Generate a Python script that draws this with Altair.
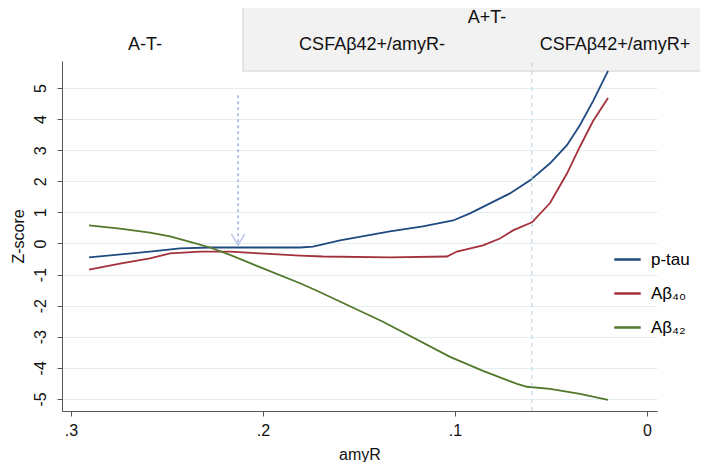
import altair as alt
import pandas as pd

# ---- data ----
ptau_x = [0.2906, 0.2589, 0.2432, 0.2276, 0.2068, 0.1807, 0.1740, 0.1599, 0.1339, 0.1167,
          0.1010, 0.0922, 0.0818, 0.0714, 0.0609, 0.0505, 0.0417, 0.0349, 0.0281, 0.0203]
ptau_z = [-0.45, -0.26, -0.16, -0.13, -0.13, -0.13, -0.10, 0.10, 0.39, 0.55,
          0.74, 0.97, 1.29, 1.61, 2.03, 2.58, 3.16, 3.81, 4.58, 5.55]

ab40_x = [0.2906, 0.2745, 0.2589, 0.2484, 0.2328, 0.2172, 0.2016, 0.1807, 0.1688, 0.1339,
          0.1042, 0.0990, 0.0854, 0.0766, 0.0698, 0.0599, 0.0505, 0.0417, 0.0349, 0.0281, 0.0203]
ab40_z = [-0.84, -0.65, -0.48, -0.32, -0.26, -0.26, -0.32, -0.39, -0.42, -0.45,
          -0.42, -0.26, -0.06, 0.16, 0.42, 0.68, 1.30, 2.25, 3.12, 3.94, 4.68]

ab42_x = [0.2906, 0.2745, 0.2589, 0.2484, 0.2380, 0.2276, 0.2172, 0.2000, 0.1807, 0.1719,
          0.1375, 0.1026, 0.0854, 0.0677, 0.0625, 0.0505, 0.0349, 0.0203]
ab42_z = [0.58, 0.48, 0.35, 0.23, 0.05, -0.13, -0.37, -0.80, -1.28, -1.52,
          -2.52, -3.65, -4.10, -4.52, -4.61, -4.68, -4.84, -5.03]

series_names = ["p-tau", "Aβ₄₀", "Aβ₄₂"]
series_colors = ["#1f4a80", "#a3303a", "#52782c"]

x_ticks = [0.3, 0.2, 0.1, 0.0]
y_ticks = [-5, -4, -3, -2, -1, 0, 1, 2, 3, 4, 5]

cutoff_x = 0.06          # dashed vertical line
arrow_x = 0.213           # dashed arrow position
arrow_top, arrow_tip = 4.77, -0.05

label_text = ["A-T-", "A+T-", "CSFAβ42+/amyR-", "CSFAβ42+/amyR+"]
label_x = [0.2615, 0.0833, 0.1432, 0.0167]
label_y = [6.39, 7.25, 6.39, 6.39]

box_x, box_x2 = 0.2104, -0.0307
box_y, box_y2 = 5.55, 7.84

x_domain = [-0.0052, 0.3047]
y_domain = [-5.39, 5.87]

FONT = "Liberation Sans"

rows = []
for name, xs, zs in zip(series_names, [ptau_x, ab40_x, ab42_x], [ptau_z, ab40_z, ab42_z]):
    for a, b in zip(xs, zs):
        rows.append({"series": name, "amyR": a, "z": b})
df = pd.DataFrame(rows)

xscale = alt.Scale(domain=x_domain, reverse=True, nice=False, zero=False)
yscale = alt.Scale(domain=y_domain, nice=False, zero=False)

x_axis = alt.Axis(values=x_ticks, grid=False, titlePadding=8, labelPadding=6,
                  labelExpr="datum.value == 0 ? '0' : replace(format(datum.value, '.1f'), '0.', '.')")
y_axis = alt.Axis(values=y_ticks, grid=True, labelAngle=270, labelOverlap=False,
                  labelExpr="'' + datum.value",
                  labelAlign="center", labelBaseline="bottom", labelPadding=9, titlePadding=6)


def ex(field):
    return alt.X(field, scale=xscale, axis=x_axis, title="amyR")


def ey(field):
    return alt.Y(field, scale=yscale, axis=y_axis, title="Z-score")


box = alt.Chart(pd.DataFrame({"x": [box_x], "x2": [box_x2], "y": [box_y], "y2": [box_y2]})).mark_rect(
    fill="#f2f2f2", stroke="#dedede", strokeWidth=1.5
).encode(x=ex("x:Q"), x2="x2:Q", y=ey("y:Q"), y2="y2:Q")

lines = alt.Chart(df).mark_line(strokeWidth=1.8).encode(
    x=ex("amyR:Q"),
    y=ey("z:Q"),
    color=alt.Color("series:N",
                    scale=alt.Scale(domain=series_names, range=series_colors),
                    legend=alt.Legend(title=None, orient="none", legendX=551, legendY=184,
                                      symbolType="stroke", symbolSize=700, symbolStrokeWidth=2.5,
                                      labelFontSize=17, labelFont=FONT, rowPadding=11,
                                      labelOffset=9)),
)

cut = alt.Chart(pd.DataFrame({"x": [cutoff_x], "y": [y_domain[0]], "y2": [5.9]})).mark_rule(
    color="#bcd3e2", strokeDash=[4, 4], strokeWidth=1.2
).encode(x=ex("x:Q"), y=ey("y:Q"), y2="y2:Q")

shaft = alt.Chart(pd.DataFrame({"x": [arrow_x], "y": [arrow_top], "y2": [arrow_tip]})).mark_rule(
    color="#9fb2e6", strokeDash=[3, 3], strokeWidth=1.5
).encode(x=ex("x:Q"), y=ey("y:Q"), y2="y2:Q")

head = alt.Chart(pd.DataFrame({"x": [arrow_x], "y": [arrow_tip]})).mark_point(
    shape="M-0.6,-1L0,0L0.6,-1", filled=False, stroke="#9fb2e6", strokeWidth=1.5, size=500
).encode(x=ex("x:Q"), y=ey("y:Q"))

labels = alt.Chart(pd.DataFrame({"t": label_text, "x": label_x, "y": label_y})).mark_text(
    font=FONT, fontSize=18, color="#111111", align="center", baseline="middle"
).encode(x=ex("x:Q"), y=ey("y:Q"), text="t:N")

chart = alt.layer(box, lines, cut, shaft, head, labels).properties(
    width=595, height=350,
    autosize=alt.AutoSizeParams(type="none"),
    padding={"left": 54, "top": 53, "right": 43, "bottom": 51},
).configure_view(stroke=None).configure_axis(
    labelFont=FONT, titleFont=FONT, labelFontSize=16, titleFontSize=16,
    labelColor="#111111", titleColor="#111111", titleFontWeight="normal",
    domainColor="#555555", tickColor="#555555", tickSize=5,
    gridColor="#e3eef1", gridWidth=1.2,
)

chart.save("out.html", embed_options={"renderer": "svg", "actions": False})
